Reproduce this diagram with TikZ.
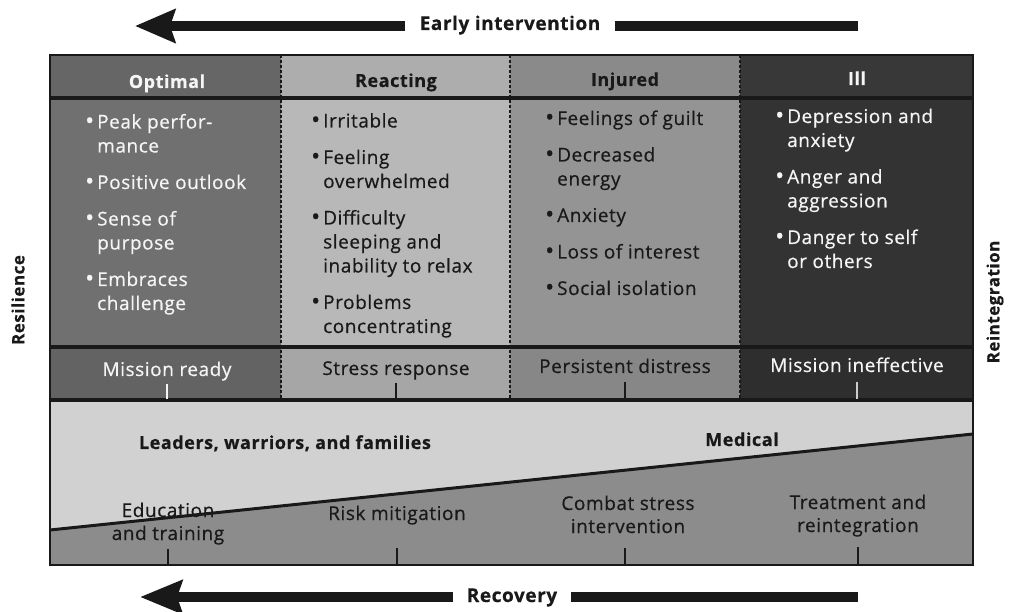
\documentclass[tikz,border=0pt]{standalone}
\usepackage{fontspec}
\setmainfont{Open Sans}[LetterSpace=3, FakeBold=0.5]
\usetikzlibrary{arrows.meta}
\definecolor{cOptH}{gray}{0.40}
\definecolor{cOptB}{gray}{0.44}
\definecolor{cOptM}{gray}{0.39}
\definecolor{cReaH}{gray}{0.68}
\definecolor{cReaB}{gray}{0.72}
\definecolor{cReaM}{gray}{0.65}
\definecolor{cInjH}{gray}{0.54}
\definecolor{cInjB}{gray}{0.58}
\definecolor{cInjM}{gray}{0.53}
\definecolor{cIllH}{gray}{0.22}
\definecolor{cIllB}{gray}{0.20}
\definecolor{cIllM}{gray}{0.18}
\definecolor{cLight}{gray}{0.82}
\definecolor{cLow}{gray}{0.55}
\definecolor{cInk}{gray}{0.10}
\definecolor{cWhite}{gray}{0.96}
\definecolor{cTickL}{gray}{0.80}
\newcommand\bul{\llap{\raisebox{-0.5pt}{\fontsize{24}{24}\selectfont\textbullet}\hspace{3pt}}}
\begin{document}
\begin{tikzpicture}[x=1pt,y=-1pt,
  bodytxt/.style={anchor=base west, align=left, inner sep=0pt, font=\fontsize{19}{24}\selectfont},
  headtxt/.style={anchor=base, inner sep=0pt, font=\fontsize{18}{22}\selectfont\bfseries},
  misstxt/.style={anchor=base, inner sep=0pt, font=\fontsize{19}{23}\selectfont},
  lowtxt/.style={anchor=base, align=center, inner sep=0pt, text=cInk, font=\fontsize{19}{23}\selectfont},
  boldtxt/.style={anchor=base, inner sep=0pt, text=cInk, font=\fontsize{18}{22}\selectfont\bfseries},
  sidetxt/.style={rotate=90, inner sep=0pt, text=cInk, font=\fontsize{17}{20}\selectfont\bfseries},
  arrtxt/.style={anchor=base, inner xsep=14pt, inner ysep=0pt, text=cInk, font=\fontsize{19}{22}\selectfont\bfseries},
  bar/.style={line width=9.5pt, draw=cInk},
  divider/.style={line width=2pt, draw=cInk, dash pattern=on 3pt off 2pt},
  rule/.style={line width=3.5pt, draw=cInk},
  tick/.style={line width=2pt},
]
\useasboundingbox (0,0) rectangle (1013,612);
\fill[white] (0,0) rectangle (1013,612);

% header cells
\fill[cOptH] (50,55) rectangle (281,98);
\fill[cReaH] (281,55) rectangle (510,98);
\fill[cInjH] (510,55) rectangle (740,98);
\fill[cIllH] (740,55) rectangle (973,98);
% body cells
\fill[cOptB] (50,98) rectangle (281,347);
\fill[cReaB] (281,98) rectangle (510,347);
\fill[cInjB] (510,98) rectangle (740,347);
\fill[cIllB] (740,98) rectangle (973,347);
% mission cells
\fill[cOptM] (50,347) rectangle (281,400);
\fill[cReaM] (281,347) rectangle (510,400);
\fill[cInjM] (510,347) rectangle (740,400);
\fill[cIllM] (740,347) rectangle (973,400);
% bottom band
\fill[cLight] (50,400) rectangle (973,565);
\fill[cLow] (50,530) -- (973,434) -- (973,565) -- (50,565) -- cycle;
\draw[line width=3pt, cInk] (50,530) -- (973,434);

% dividers
\draw[divider] (281,55) -- (281,400);
\draw[divider] (510,55) -- (510,400);
\draw[divider] (740,55) -- (740,400);

% rules
\draw[rule] (50,98) -- (973,98);
\draw[rule] (50,347) -- (973,347);
\draw[rule] (50,400) -- (973,400);
\draw[line width=2.5pt, cInk] (50,55) rectangle (973,565);

% ticks
\draw[tick, cWhite] (167,384) -- (167,399);
\draw[tick, cInk] (396,383) -- (396,399);
\draw[tick, cInk] (625,382) -- (625,399);
\draw[tick, cTickL] (857,382) -- (857,399);
\draw[tick, cInk] (168,549) -- (168,565);
\draw[tick, cInk] (397,548) -- (397,565);
\draw[tick, cInk] (625,548) -- (625,565);
\draw[tick, cInk] (858,547) -- (858,565);

% headers
\node[headtxt, text=cWhite] (hOpt) at (167,88) {Optimal};
\node[headtxt, text=cInk] (hRea) at (396,87) {Reacting};
\node[headtxt, text=cInk] (hInj) at (625,86) {Injured};
\node[headtxt, text=cWhite] (hIll) at (857,85) {Ill};

% body lists (anchor base = baseline of the last line)
\node[bodytxt, text=cWhite] (lOpt) at (97,310)
  {\bul Peak perfor-\\mance\\[12.5pt]\bul Positive outlook\\[12.5pt]\bul Sense of\\purpose\\[12.5pt]\bul Embraces\\challenge};
\node[bodytxt, text=cInk] (lRea) at (323,333)
  {\bul Irritable\\[12.5pt]\bul Feeling\\overwhelmed\\[12.5pt]\bul Difficulty\\sleeping and\\inability to relax\\[12.5pt]\bul Problems\\concentrating};
\node[bodytxt, text=cInk] (lInj) at (557,295)
  {\bul Feelings of guilt\\[12.5pt]\bul Decreased\\energy\\[12.5pt]\bul Anxiety\\[12.5pt]\bul Loss of interest\\[12.5pt]\bul Social isolation};
\node[bodytxt, text=cWhite] (lIll) at (787,268)
  {\bul Depression and\\anxiety\\[12.5pt]\bul Anger and\\aggression\\[12.5pt]\bul Danger to self\\or others};

% mission row
\node[misstxt, text=cWhite] (mOpt) at (167,376) {Mission ready};
\node[misstxt, text=cInk] (mRea) at (396,375) {Stress response};
\node[misstxt, text=cInk] (mInj) at (625,373) {Persistent distress};
\node[misstxt, text=cWhite] (mIll) at (857,372) {Mission ineffective};

% bottom labels
\node[boldtxt] (leaders) at (285,449) {Leaders, warriors, and families};
\node[boldtxt] (medical) at (742,446) {Medical};
\node[lowtxt] (edu) at (168,540) {Education\\and training};
\node[lowtxt] (risk) at (397,520) {Risk mitigation};
\node[lowtxt] (combat) at (628,533) {Combat stress\\intervention};
\node[lowtxt] (treat) at (858,532) {Treatment and\\reintegration};

% side labels
\node[sidetxt] (resil) at (18,300) {Resilience};
\node[sidetxt] (reint) at (995,302) {Reintegration};

% arrows
\node[arrtxt] (early) at (510,30) {Early intervention};
\coordinate (tipT) at (135,26);
\coordinate (endT) at (858,26);
\draw[bar, -{Stealth[length=40pt, width=33pt, inset=5pt]}] (early.west |- tipT) -- (tipT);
\draw[bar] (early.east |- endT) -- (endT);

\node[arrtxt] (recov) at (512,602) {Recovery};
\coordinate (tipB) at (140,597);
\coordinate (endB) at (858,597);
\draw[bar, -{Stealth[length=42pt, width=33pt, inset=5pt]}] (recov.west |- tipB) -- (tipB);
\draw[bar] (recov.east |- endB) -- (endB);
\end{tikzpicture}
\end{document}
